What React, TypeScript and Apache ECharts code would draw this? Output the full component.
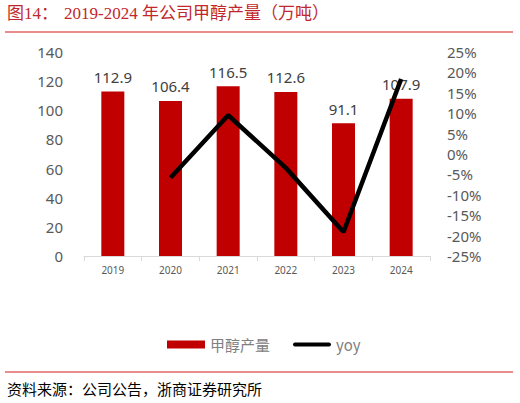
import React, { useEffect, useRef } from 'react';
import * as echarts from 'echarts';

const years = ['2019', '2020', '2021', '2022', '2023', '2024'];
const output = [112.9, 106.4, 116.5, 112.6, 91.1, 107.9];
const yoy: (number | string)[] = ['-', -5.8, 9.5, -3.4, -19.1, 18.4];

const titleLabel = '图14：';
const titleText = '2019-2024 年公司甲醇产量（万吨）';
const sourceText = '资料来源：公司公告，浙商证券研究所';

const App: React.FC = () => {
  const chartRef = useRef<HTMLDivElement>(null);

  useEffect(() => {
    document.body.style.margin = '0';
    if (!chartRef.current) return;
    const chart = echarts.init(chartRef.current, undefined, { renderer: 'svg' });

    const titleFont = '"Liberation Serif", "Noto Sans CJK SC", serif';

    const option = {
      animation: false,
      backgroundColor: '#ffffff',
      textStyle: { fontFamily: '"Noto Sans", "Noto Sans CJK SC", sans-serif' },
      grid: { left: 84, right: 90, top: 52, bottom: 147 },
      legend: {
        left: 162,
        top: 332,
        itemWidth: 38,
        itemHeight: 8,
        itemGap: 23,
        symbolKeepAspect: true,
        textStyle: { color: '#808080', fontSize: 15, fontFamily: '"Noto Sans CJK SC", sans-serif' },
        data: [
          { name: '甲醇产量', icon: 'rect' },
          {
            name: 'yoy',
            icon: 'path://M2,0 L36,0 A2,2 0 0 1 36,4 L2,4 A2,2 0 0 1 2,0 Z',
            itemStyle: { color: '#000000' }
          }
        ]
      },
      xAxis: {
        type: 'category',
        data: years,
        axisLine: { lineStyle: { color: '#d9d9d9', width: 1 } },
        axisTick: { show: true, lineStyle: { color: '#d9d9d9' }, length: 5 },
        axisLabel: { color: '#595959', fontSize: 10, margin: 9 }
      },
      yAxis: [
        {
          type: 'value',
          min: 0,
          max: 140,
          interval: 20,
          axisLine: { show: false },
          axisTick: { show: false },
          splitLine: { show: false },
          axisLabel: { color: '#595959', fontSize: 15, margin: 21 }
        },
        {
          type: 'value',
          min: -25,
          max: 25,
          interval: 5,
          axisLine: { show: false },
          axisTick: { show: false },
          splitLine: { show: false },
          axisLabel: { color: '#595959', fontSize: 15, margin: 17, formatter: '{value}%' }
        }
      ],
      series: [
        {
          name: '甲醇产量',
          type: 'bar',
          data: output,
          barWidth: 23,
          itemStyle: { color: '#c00000' },
          label: {
            show: true,
            position: 'top',
            distance: 7,
            color: '#404040',
            fontSize: 15,
            formatter: (p: any) => p.value.toFixed(1)
          }
        },
        {
          name: 'yoy',
          type: 'line',
          yAxisIndex: 1,
          data: yoy,
          symbol: 'none',
          lineStyle: { color: '#000000', width: 4.5 },
          itemStyle: { color: '#000000' }
        }
      ],
      graphic: [
        {
          type: 'text',
          left: 7,
          top: 5,
          style: { text: titleLabel, fill: '#c0282d', fontSize: 17, fontFamily: titleFont }
        },
        {
          type: 'text',
          left: 64,
          top: 5,
          style: { text: titleText, fill: '#c0282d', fontSize: 17, fontFamily: titleFont }
        },
        {
          type: 'line',
          shape: { x1: 5, y1: 32, x2: 513, y2: 32 },
          style: { stroke: '#e06666', lineWidth: 1.5 }
        },
        {
          type: 'line',
          shape: { x1: 5, y1: 372, x2: 513, y2: 372 },
          style: { stroke: '#e06666', lineWidth: 1.5 }
        },
        {
          type: 'text',
          left: 7,
          top: 381,
          style: {
            text: sourceText,
            fill: '#000000',
            fontSize: 15,
            fontFamily: '"Noto Sans CJK SC", sans-serif'
          }
        }
      ]
    };

    chart.setOption(option);
    return () => {
      chart.dispose();
    };
  }, []);

  return <div ref={chartRef} style={{ width: '520px', height: '403px' }} />;
};

export default App;
